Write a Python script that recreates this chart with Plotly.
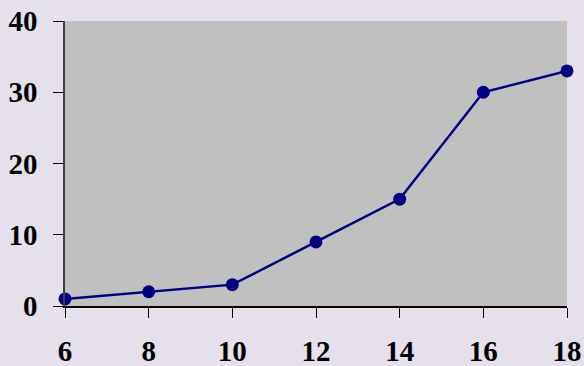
import plotly.graph_objects as go

# Values plotted on the line
x_vals = [6, 8, 10, 12, 14, 16, 18]
y_vals = [1, 2, 3, 9, 15, 30, 33]

x_ticks = [6, 8, 10, 12, 14, 16, 18]
y_ticks = [0, 10, 20, 30, 40]

navy = "#000080"
tick_font = dict(family="Liberation Serif", size=29, color="black", weight="bold")

fig = go.Figure(
    go.Scatter(
        x=x_vals,
        y=y_vals,
        mode="lines+markers",
        line=dict(color=navy, width=2.5),
        marker=dict(color=navy, size=13),
        cliponaxis=False,
    )
)

fig.update_layout(
    width=584,
    height=366,
    margin=dict(l=65, r=17, t=21, b=60),
    paper_bgcolor="#E6E0EC",
    plot_bgcolor="#C0C0C0",
    showlegend=False,
)

fig.update_xaxes(
    range=[6, 18],
    tickvals=x_ticks,
    ticktext=[str(v) for v in x_ticks],
    showgrid=False,
    zeroline=False,
    showline=True,
    linecolor="black",
    linewidth=1.5,
    ticks="outside",
    ticklen=10,
    tickcolor="black",
    tickwidth=1,
    tickfont=tick_font,
    ticklabelstandoff=8,
    automargin=False,
)

fig.update_yaxes(
    range=[0, 40],
    tickvals=y_ticks,
    ticktext=[str(v) for v in y_ticks],
    showgrid=False,
    zeroline=False,
    showline=True,
    linecolor="#404040",
    linewidth=1.5,
    ticks="outside",
    ticklen=10,
    tickcolor="black",
    tickwidth=1,
    tickfont=tick_font,
    ticklabelstandoff=10,
    automargin=False,
)

fig.write_html("out.html")
